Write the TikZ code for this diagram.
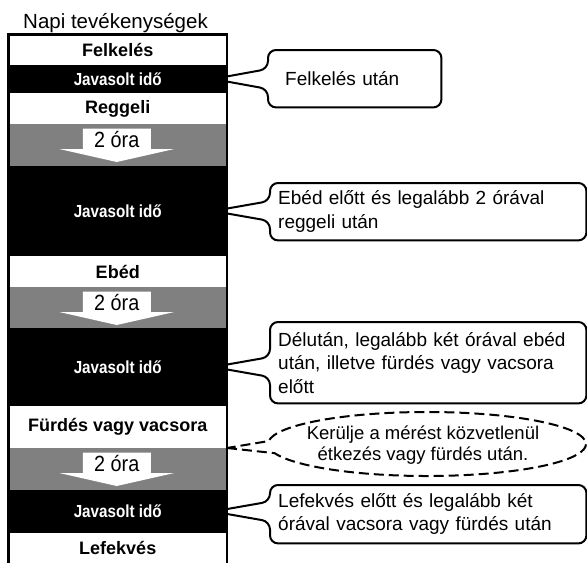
\documentclass[tikz,border=0pt]{standalone}
\usepackage{fontspec}
\setmainfont{Liberation Sans}
\newfontfamily\narrowsans[FakeStretch=0.9]{Liberation Sans}
\newfontfamily\slotsans[FakeStretch=0.87]{Liberation Sans}
\usetikzlibrary{calc,positioning,shapes.callouts}
\tikzset{
  band/.style = {fill = #1, minimum width = 218.5pt, inner sep = 0pt, outer sep = 0pt},
  mealband/.style = {band = white, minimum height = #1, font = \bfseries\fontsize{18}{20}\selectfont},
  slotband/.style = {band = black, minimum height = #1, text = white, font = \slotsans\bfseries\fontsize{17.5}{19}\selectfont},
  waitband/.style = {band = gray, minimum height = #1},
  hours/.style = {font = \narrowsans\fontsize{22}{24}\selectfont, inner sep = 0pt},
  note/.style = {font = \fontsize{19}{23.5}\selectfont, align = left, anchor = north west, inner ysep = 0pt},
  noteline/.style = {draw = black, line width = 2pt},
  warnline/.style = {draw = black, line width = 2pt, dash pattern = on 10pt off 5pt},
}

\begin{document}
\begin{tikzpicture}[x=1pt,y=-1pt]
  \useasboundingbox (0,0) rectangle (587,563);
% column of the day
  \node[mealband=30.5pt, anchor=north west] (felkeles) at (8.5,34.5) {Felkelés};
  \node[slotband=28pt, below=0pt of felkeles] (jav1) {Javasolt idő};
  \node[mealband=31pt, below=0pt of jav1] (reggeli) {Reggeli};
  \node[waitband=42pt, below=0pt of reggeli] (wait1) {};
  \node[slotband=90pt, below=0pt of wait1] (jav2) {Javasolt idő};
  \node[mealband=31pt, below=0pt of jav2] (ebed) {Ebéd};
  \node[waitband=41pt, below=0pt of ebed] (wait2) {};
  \node[slotband=78pt, below=0pt of wait2] (jav3) {Javasolt idő};
  \node[mealband=42pt, below=0pt of jav3] (furdes) {Fürdés vagy vacsora};
  \node[waitband=42pt, below=0pt of furdes] (wait3) {};
  \node[slotband=43pt, below=0pt of wait3] (jav4) {Javasolt idő};
  \node[mealband=30pt, below=0pt of jav4] (lefekves) {Lefekvés};
% waiting arrows
  \foreach \w in {wait1,wait2,wait3}{
    \fill[white] ($(\w.north)+(-35,4.5)$) -- ++(68,0) -- ++(0,20.5) -- ++(23.5,0)
      -- ($(\w.north)+(-1,38)$) -- ++(-57.5,-13) -- ++(23.5,0) -- cycle;
    \node[hours] (h\w) at ($(\w.north)+(-1,16)$) {2 óra};
  }
% frame
  \draw[line width=2.2pt] (felkeles.north west |- lefekves.south) -- (felkeles.north west)
    -- (felkeles.north east) -- (felkeles.north east |- lefekves.south);
  \node[anchor=base west, inner sep=0pt, font=\fontsize{20.5}{24}\selectfont] (title) at (23,28) {Napi tevékenységek};
% notes
  \node[note, text width=139pt, inner xsep=17pt, minimum height=57pt] (n1) at (268,50) {Felkelés után};
  \node[note, text width=300pt, inner xsep=8pt, minimum height=57pt] (n2) at (270,183) {Ebéd előtt és legalább 2 órával\\reggeli után};
  \node[note, text width=300pt, inner xsep=8pt, minimum height=81pt] (n3) at (270,322) {Délután, legalább két órával ebéd\\után, illetve fürdés vagy vacsora\\előtt};
  \node[note, text width=300pt, inner xsep=8pt, minimum height=58pt] (n4) at (270,485) {Lefekvés előtt és legalább két\\órával vacsora vagy fürdés után};
  \foreach \n/\j in {n1/jav1,n2/jav2,n3/jav3,n4/jav4}{
    \coordinate (tip\n) at ($(\j.east)+(-14,0)$);
    \draw[noteline] (\n.north) [rounded corners=8pt] -- (\n.north east) -- (\n.south east) -- (\n.south west)
      -- ($(\n.west |- tip\n)+(0,10)$) [sharp corners] -- (tip\n) [rounded corners=8pt]
      -- ($(\n.west |- tip\n)+(0,-10)$) -- (\n.north west) -- cycle;
  }
% warning
  \node[ellipse callout, warnline, minimum width=318pt, minimum height=64pt,
    callout absolute pointer={(furdes.south east)}, callout pointer arc=22] (warn) at (427,444) {};
  \node[align=center, font=\fontsize{18.5}{20.5}\selectfont] (warntext) at ($(warn.center)+(-4,1)$) {Kerülje a mérést közvetlenül\\étkezés vagy fürdés után.};
\end{tikzpicture}
\end{document}
